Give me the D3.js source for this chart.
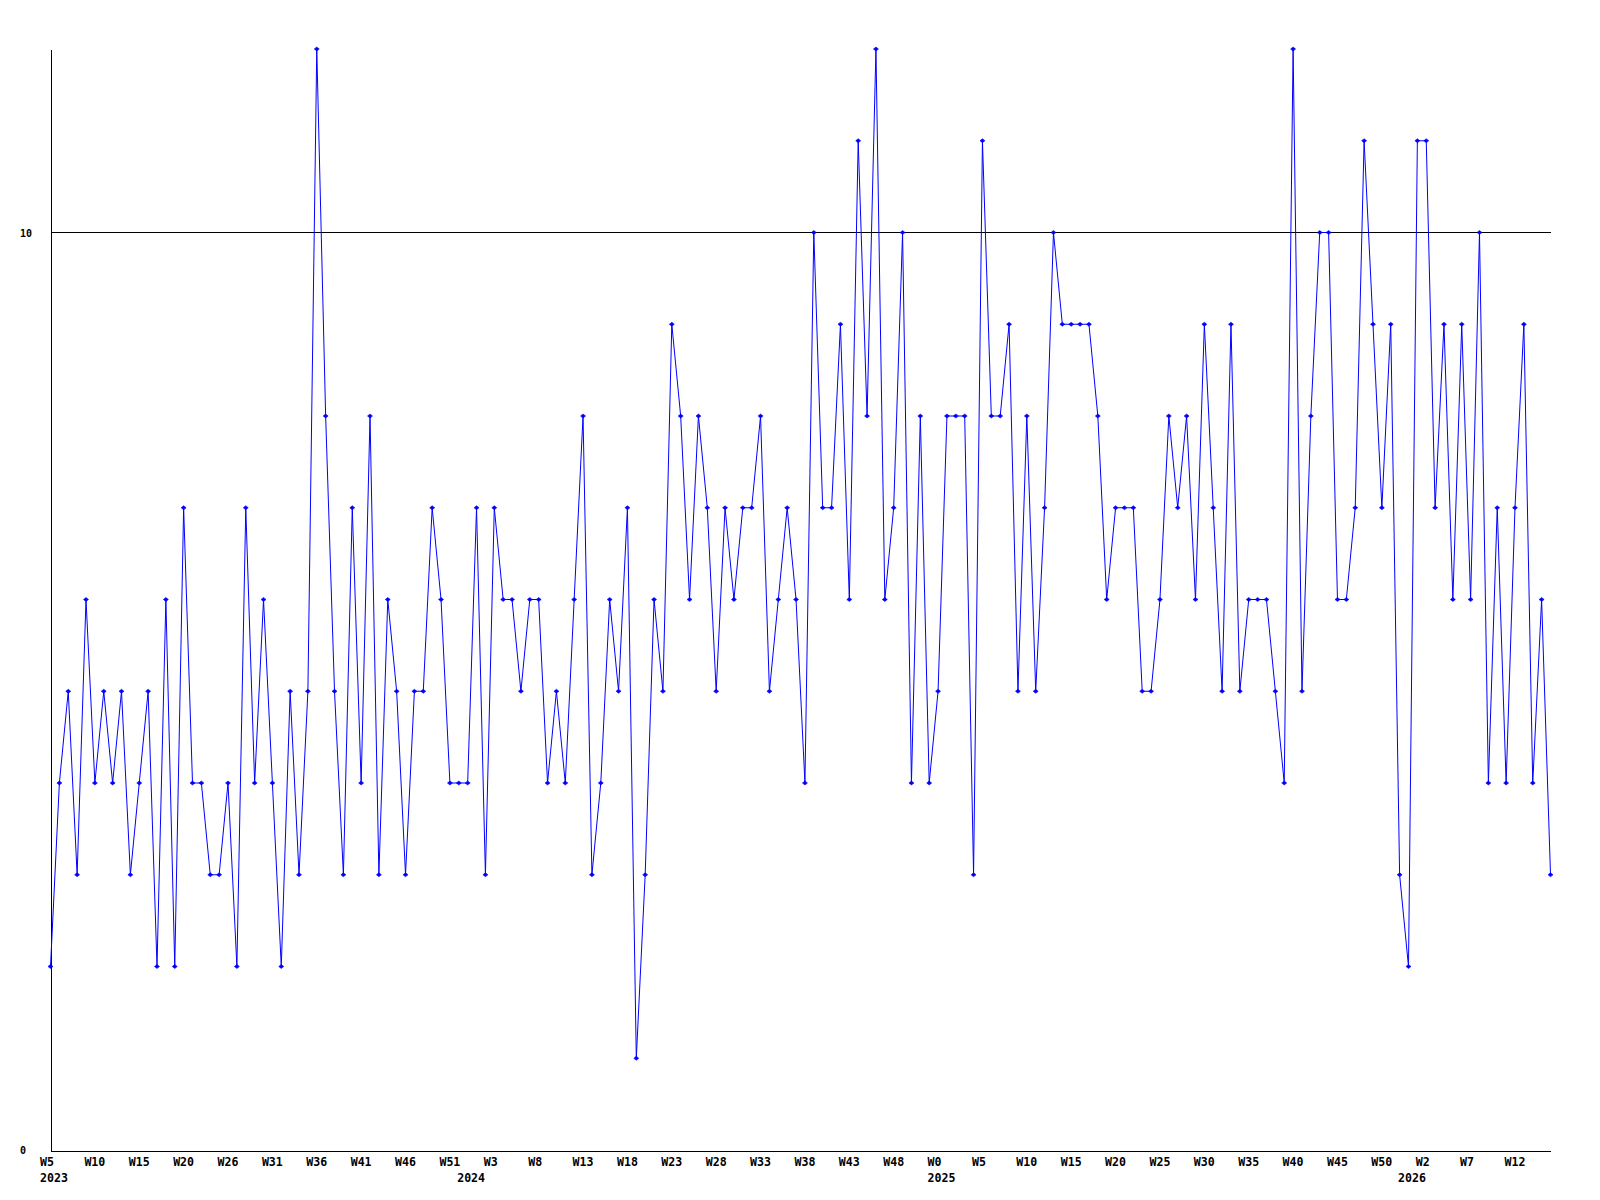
<!DOCTYPE html>
<html>
<head>
<meta charset="utf-8">
<script src="https://cdn.jsdelivr.net/npm/d3@7"></script>
<style>
  body { margin: 0; background: #fff; }
  svg { display: block; }
  .tick text { font-family: "DejaVu Sans Mono", monospace; font-weight: bold; fill: #000; }
</style>
</head>
<body>
<svg id="chart"></svg>
<script>
// weekly values, one per point
const values = [
  2,4,5,3,6,4,5,4,5,3,
  4,5,2,6,2,7,4,4,3,3,
  4,2,7,4,6,4,2,5,3,5,
  12,8,5,3,7,4,8,3,6,5,
  3,5,5,7,6,4,4,4,7,3,
  7,6,6,5,6,6,4,5,4,6,
  8,3,4,6,5,7,1,3,6,5,
  9,8,6,8,7,5,7,6,7,7,
  8,5,6,7,6,4,10,7,7,9,
  6,11,8,12,6,7,10,4,8,4,
  5,8,8,8,3,11,8,8,9,5,
  8,5,7,10,9,9,9,9,8,6,
  7,7,7,5,5,6,8,7,8,6,
  9,7,5,9,5,6,6,6,5,4,
  12,5,8,10,10,6,6,7,11,9,
  7,9,3,2,11,11,7,9,6,9,
  6,10,4,7,4,7,9,4,6,3
];
// a week label every 5 points
const weekLabels = ['W5','W10','W15','W20','W26','W31','W36','W41','W46','W51','W3','W8','W13','W18','W23','W28',
  'W33','W38','W43','W48','W0','W5','W10','W15','W20','W25','W30','W35','W40','W45','W50','W2','W7','W12'];
const yearLabels = ['2023','2024','2025','2026'];
const yearIndex = [0, 47, 100, 153];
const yTicks = [0, 10];
const yMax = 12;

const width = 1600, height = 1200;
const plotLeft = 50.5, plotRight = 1550.5, plotTop = 49, plotBottom = 1150;

const svg = d3.select('#chart').attr('width', width).attr('height', height);

const x = d3.scaleLinear().domain([0, values.length - 1]).range([plotLeft, plotRight]);
const y = d3.scaleLinear().domain([0, yMax]).range([plotBottom, plotTop]);

// line at 10
svg.append('line')
  .attr('x1', plotLeft).attr('x2', plotRight)
  .attr('y1', Math.round(y(10)) + 0.5).attr('y2', Math.round(y(10)) + 0.5)
  .attr('stroke', '#000').attr('stroke-width', 1)
  .attr('shape-rendering', 'crispEdges');

// y axis
const yAxis = d3.axisLeft(y).tickValues(yTicks).tickSize(0).tickFormat(d3.format('d'));
const gy = svg.append('g').attr('transform', `translate(${plotLeft},0)`).call(yAxis);
gy.select('.domain').attr('stroke', '#000').attr('shape-rendering', 'crispEdges');
gy.selectAll('.tick text')
  .attr('x', 20 - plotLeft).attr('text-anchor', 'start').attr('dy', '0.35em')
  .style('font-size', '10px');

// x axis with week labels
const xAxis = d3.axisBottom(x)
  .tickValues(weekLabels.map((d, i) => i * 5))
  .tickSize(0)
  .tickFormat((d, i) => weekLabels[i]);
const gx = svg.append('g').attr('transform', `translate(0,${plotBottom + 0.5})`).call(xAxis);
gx.select('.domain').attr('stroke', '#000').attr('shape-rendering', 'crispEdges');
gx.selectAll('.tick text')
  .attr('x', -11).attr('y', 15).attr('dy', 0)
  .attr('text-anchor', 'start')
  .style('font-size', '11.6px');

// year labels under the first week of each year
const gYear = svg.append('g').attr('transform', `translate(0,${plotBottom + 0.5})`).call(
  d3.axisBottom(x).tickValues(yearIndex).tickSize(0).tickFormat((d, i) => yearLabels[i]));
gYear.select('.domain').remove();
gYear.selectAll('.tick text')
  .attr('x', -11).attr('y', 31).attr('dy', 0)
  .attr('text-anchor', 'start')
  .style('font-size', '11.6px');

// the series
const line = d3.line().x((d, i) => x(i)).y(d => y(d));
svg.append('path')
  .datum(values)
  .attr('d', line)
  .attr('fill', 'none')
  .attr('stroke', '#0000ff')
  .attr('stroke-width', 1);

svg.append('g').selectAll('path')
  .data(values)
  .join('path')
  .attr('transform', (d, i) => `translate(${x(i)},${y(d)})`)
  .attr('d', 'M-2.5,0L0,-2L2.5,0L0,2Z')
  .attr('fill', '#0000ff')
  .attr('stroke', '#0000ff')
  .attr('stroke-width', 0.6);
</script>
</body>
</html>
